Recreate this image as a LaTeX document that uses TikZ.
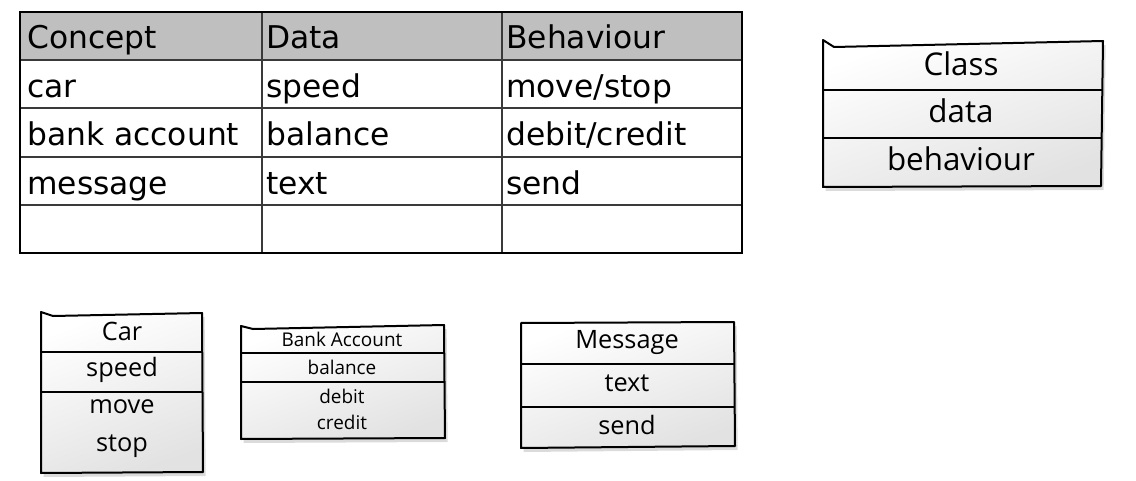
\documentclass[tikz,border=0pt]{standalone}
\usepackage{fontspec}
\setmainfont{DejaVu Sans}
\newfontfamily\handfont{Open Sans}
\usetikzlibrary{shadows}
\definecolor{headgray}{HTML}{BFBFBF}
\definecolor{gridgray}{HTML}{3A3A3A}
\definecolor{boxlow}{HTML}{E2E2E2}
\tikzset{
  celltext/.style={anchor=base west, inner sep=0pt, font=\fontsize{23.5pt}{26pt}\selectfont},
  gridline/.style={draw=gridgray, line width=1pt},
  outerline/.style={draw=black, line width=2pt},
  handbox/.style={draw=black, line width=1.5pt, line join=round,
    top color=white, bottom color=boxlow, shading angle=20,
    drop shadow={shadow xshift=2pt, shadow yshift=-3pt, opacity=0.2, fill=black!70}},
  handline/.style={draw=black, line width=1.5pt},
  handbig/.style={inner sep=0pt, font=\handfont\fontsize{23.5pt}{26pt}\selectfont},
  handmid/.style={inner sep=0pt, font=\handfont\fontsize{19pt}{22pt}\selectfont},
  handsmall/.style={inner sep=0pt, font=\handfont\fontsize{14.2pt}{17pt}\selectfont}
}
\begin{document}
\begin{tikzpicture}[x=0.75pt,y=-0.75pt]
\useasboundingbox (0,0) rectangle (1136,481);

% ---------- table ----------
\fill[headgray] (20,12) rectangle (742,60);
\foreach \yy in {60,108,157,205} \draw[gridline] (20,\yy) -- (742,\yy);
\foreach \xx in {262,502} \draw[gridline] (\xx,12) -- (\xx,253);
\draw[outerline] (20,12) rectangle (742,253);

\node[celltext] (h1) at (27,49) {Concept};
\node[celltext] (h2) at (266,49) {Data};
\node[celltext] (h3) at (506,49) {Behaviour};
\node[celltext] (r11) at (27,98) {car};
\node[celltext] (r12) at (266,98) {speed};
\node[celltext] (r13) at (506,98) {move/stop};
\node[celltext] (r21) at (27,146) {bank account};
\node[celltext] (r22) at (266,146) {balance};
\node[celltext] (r23) at (506,146) {debit/credit};
\node[celltext] (r31) at (27,195) {message};
\node[celltext] (r32) at (266,195) {text};
\node[celltext] (r33) at (506,195) {send};

% ---------- Class box ----------
\path[handbox] (834,47) -- (823,40) -- (823,187) -- (1101,186) -- (1103,41) -- cycle;
\draw[handline] (823,90) -- (1102,90);
\draw[handline] (823,138) -- (1102,138);
\node[handbig] (cls) at (961,64) {Class};
\node[handbig] (cld) at (961,111) {data};
\node[handbig] (clb) at (961,159) {behaviour};

% ---------- Car box ----------
\path[handbox] (53,316) -- (41,312) -- (41,473) -- (203,472) -- (202,313) -- cycle;
\draw[handline] (41,352) -- (202,352);
\draw[handline] (41,392) -- (202,392);
\node[handmid] (car) at (122,331) {Car};
\node[handmid] (cars) at (122,370) {speed};
\node[handmid] (carm) at (122,407) {move};
\node[handmid] (cart) at (122,446) {stop};

% ---------- Bank Account box ----------
\path[handbox] (253,329) -- (241,326) -- (241,439) -- (445,438) -- (444,325) -- cycle;
\draw[handline] (241,353) -- (444,353);
\draw[handline] (241,382) -- (444,382);
\node[handsmall] (bk) at (342,339) {Bank Account};
\node[handsmall] (bkb) at (342,367) {balance};
\node[handsmall] (bkd) at (342,396) {debit};
\node[handsmall] (bkc) at (342,422) {credit};

% ---------- Message box ----------
\path[handbox] (521,323) -- (521,448) -- (735,446) -- (734,322) -- cycle;
\draw[handline] (521,364) -- (734,364);
\draw[handline] (521,407) -- (734,407);
\node[handmid] (msg) at (627,342) {Message};
\node[handmid] (msgt) at (627,383) {text};
\node[handmid] (msgs) at (627,425) {send};
\end{tikzpicture}
\end{document}
